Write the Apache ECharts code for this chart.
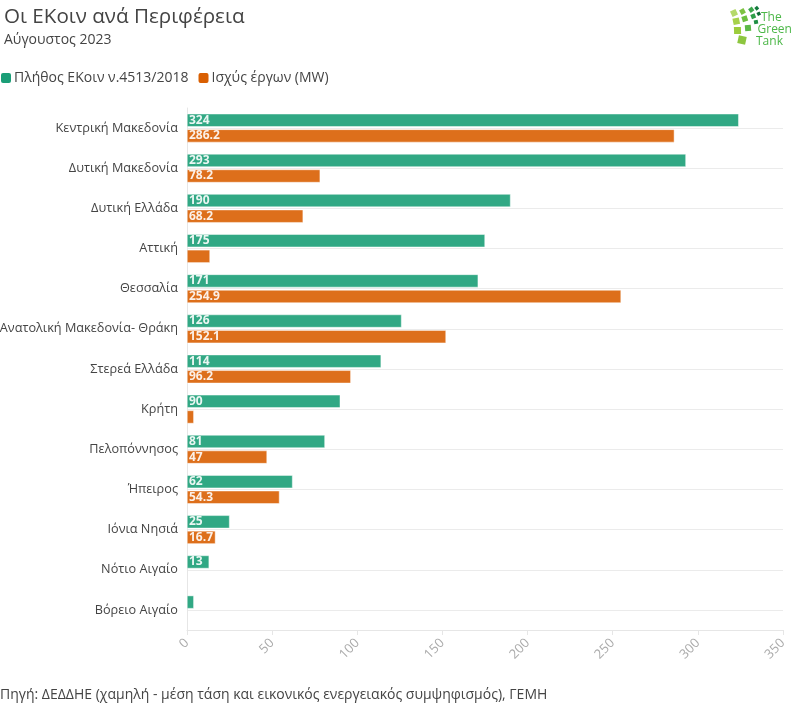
<!DOCTYPE html>
<html>
<head>
<meta charset="utf-8">
<script src="https://cdn.jsdelivr.net/npm/echarts@6/dist/echarts.min.js"></script>
<style>
html,body{margin:0;padding:0;background:#fff;}
#chart{width:796px;height:707px;}
</style>
</head>
<body>
<div id="chart"></div>
<script>
const categories = ["Κεντρική Μακεδονία","Δυτική Μακεδονία","Δυτική Ελλάδα","Αττική","Θεσσαλία","Ανατολική Μακεδονία- Θράκη","Στερεά Ελλάδα","Κρήτη","Πελοπόννησος","Ήπειρος","Ιόνια Νησιά","Νότιο Αιγαίο","Βόρειο Αιγαίο"];
const ekoinCount = [324, 293, 190, 175, 171, 126, 114, 90, 81, 62, 25, 13, 4];
const powerMW = [286.2, 78.2, 68.2, 13.5, 254.9, 152.1, 96.2, 4, 47, 54.3, 16.7, null, null];
const xTicks = [0, 50, 100, 150, 200, 250, 300, 350];
const seriesNames = ["Πλήθος ΕΚοιν ν.4513/2018", "Ισχύς έργων (MW)"];
const colors = ["#1b9e77", "#d95f02"];

const FONT = "Open Sans";

function labelFits(v) {
  if (v == null) return false;
  if (v < 10) return false;
  if (String(v).indexOf('.') >= 0 && v < 15) return false;
  return true;
}
function mkData(arr) {
  return arr.map(v => ({ value: v, label: { show: labelFits(v) } }));
}

const chart = echarts.init(document.getElementById('chart'), null, { renderer: 'canvas' });

const logoSquares = [
  {x: 731, y: 10, s: 6, r: 25, c: '#b5d96a'},
  {x: 733, y: 18, s: 6.5, r: 12, c: '#a6d14a'},
  {x: 734, y: 27, s: 7, r: 2, c: '#9ccc3c'},
  {x: 738, y: 36, s: 8, r: -12, c: '#8dc63f'},
  {x: 740, y: 9, s: 5, r: 30, c: '#7dc242'},
  {x: 742, y: 16, s: 5.5, r: 18, c: '#6cbf3f'},
  {x: 745, y: 25, s: 6, r: 5, c: '#5cb947'},
  {x: 749, y: 7.5, s: 4.5, r: 35, c: '#3aa64a'},
  {x: 751, y: 14, s: 4.5, r: 22, c: '#2e9e48'},
  {x: 754, y: 20, s: 4, r: 10, c: '#1f8f44'},
  {x: 755, y: 6.5, s: 3.5, r: 40, c: '#117a3c'},
  {x: 757, y: 12, s: 3.5, r: 28, c: '#0d6b35'}
];

chart.setOption({
  animation: false,
  textStyle: { fontFamily: FONT },
  title: {
    text: "Οι ΕΚοιν ανά Περιφέρεια",
    subtext: "Αύγουστος 2023",
    left: -1, top: 2,
    itemGap: 5,
    textStyle: { fontFamily: FONT, fontSize: 20.6, fontWeight: 'normal', color: '#444' },
    subtextStyle: { fontFamily: FONT, fontSize: 14, color: '#444' }
  },
  legend: {
    left: -6, top: 66,
    icon: 'roundRect',
    itemWidth: 12, itemHeight: 12, itemGap: 8,
    itemStyle: { opacity: 1 },
    textStyle: { fontFamily: FONT, fontSize: 14, color: '#444', padding: [0, 0, 0, -3] },
    data: seriesNames
  },
  grid: { left: 187, right: 13, top: 108, bottom: 77, containLabel: false, outerBoundsMode: 'none' },
  xAxis: {
    type: 'value',
    min: xTicks[0], max: xTicks[xTicks.length - 1], interval: 50,
    axisLine: { show: true, lineStyle: { color: '#e6e6e6', width: 1 } },
    axisTick: { show: true, length: 5, lineStyle: { color: '#e6e6e6' } },
    splitLine: { show: false },
    axisLabel: { rotate: 45, color: '#aaa', fontSize: 13, fontFamily: FONT, margin: 11 }
  },
  yAxis: {
    type: 'category',
    data: categories,
    inverse: true,
    axisLine: { show: true, lineStyle: { color: '#e6e6e6' } },
    axisTick: { show: false },
    splitLine: { show: true, alignWithLabel: true, lineStyle: { color: '#ebebeb', width: 1 } },
    axisLabel: { color: '#444', fontSize: 12.7, fontFamily: FONT, margin: 9 }
  },
  series: [
    {
      name: seriesNames[0], type: 'bar',
      data: mkData(ekoinCount),
      barWidth: 13, barGap: '20%',
      itemStyle: { color: colors[0], opacity: 0.9, borderColor: '#fff', borderWidth: 0.5 },
      label: { position: 'insideLeft', distance: 2, color: '#fff', fontWeight: 'bold', fontSize: 12, fontFamily: FONT }
    },
    {
      name: seriesNames[1], type: 'bar',
      data: mkData(powerMW),
      barWidth: 13, barGap: '20%',
      itemStyle: { color: colors[1], opacity: 0.9, borderColor: '#fff', borderWidth: 0.5 },
      label: { position: 'insideLeft', distance: 2, color: '#fff', fontWeight: 'bold', fontSize: 12, fontFamily: FONT }
    }
  ],
  graphic: [
    {
      type: 'text', left: 0, top: 688,
      style: { text: "Πηγή: ΔΕΔΔΗΕ (χαμηλή - μέση τάση και εικονικός ενεργειακός συμψηφισμός), ΓΕΜΗ", fill: '#444', fontSize: 14, fontFamily: FONT }
    },
    {
      type: 'group',
      children: logoSquares.map(q => ({
        type: 'rect',
        x: q.x + q.s / 2, y: q.y + q.s / 2,
        rotation: q.r * Math.PI / 180,
        shape: { x: -q.s / 2, y: -q.s / 2, width: q.s, height: q.s },
        style: { fill: q.c }
      })).concat([
        { type: 'text', x: 761, y: 12, style: { text: 'The', fill: '#4cb748', fontSize: 12, fontFamily: FONT } },
        { type: 'text', x: 757.5, y: 24, style: { text: 'Green', fill: '#4cb748', fontSize: 12, fontFamily: FONT } },
        { type: 'text', x: 756, y: 36, style: { text: 'Tank', fill: '#4cb748', fontSize: 12, fontFamily: FONT } }
      ])
    }
  ]
});
</script>
</body>
</html>
